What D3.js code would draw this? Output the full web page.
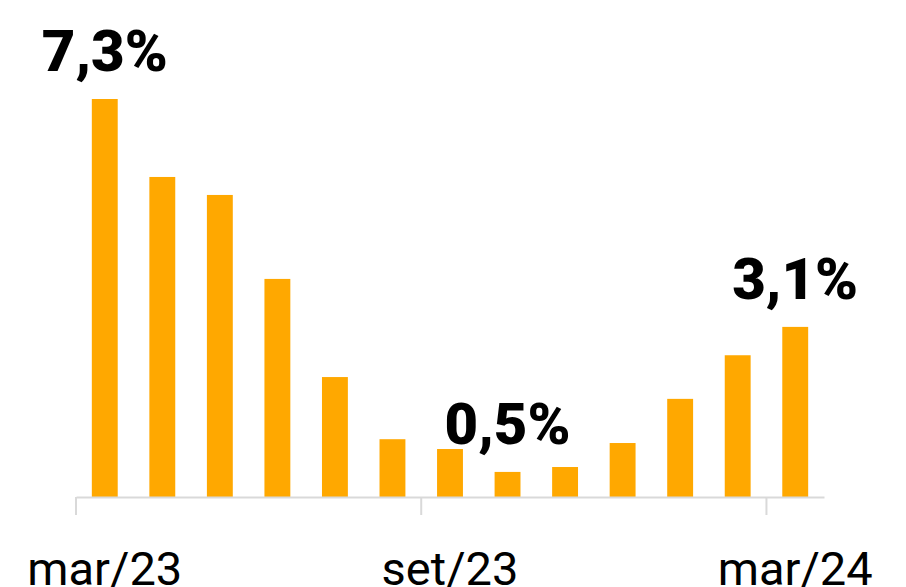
<!DOCTYPE html>
<html>
<head>
<meta charset="utf-8">
<script src="https://cdn.jsdelivr.net/npm/d3@7"></script>
<style>
  html, body { margin: 0; padding: 0; background: #fff; }
  svg { display: block; }
</style>
</head>
<body>
<div id="chart"></div>
<script>
    const months = ['mar/23', 'abr/23', 'mai/23', 'jun/23', 'jul/23', 'ago/23', 'set/23',
        'out/23', 'nov/23', 'dez/23', 'jan/24', 'fev/24', 'mar/24'];
    const values = [7.3, 5.87, 5.54, 4.0, 2.2, 1.06, 0.88, 0.46, 0.55, 0.99, 1.8, 2.6, 3.12];
    const tickLabels = ['mar/23', 'set/23', 'mar/24'];
    const labeledMonths = ['mar/23', 'out/23', 'mar/24'];

    const width = 906;
    const height = 587;
    const margins = { left: 76, right: 82, top: 99, bottom: 90 };

    const svg = d3.select('#chart')
        .append('svg')
        .attr('width', width)
        .attr('height', height);

    //scales
    const x = d3.scaleBand()
        .domain(months)
        .range([margins.left, width - margins.right])
        .paddingInner(0.55)
        .paddingOuter(0.275);
    const y = d3.scaleLinear()
        .domain([0, d3.max(values)])
        .range([height - margins.bottom, margins.top]);

    //bars
    svg.append('g')
        .selectAll('rect')
        .data(months)
        .join('rect')
        .attr('x', d => x(d))
        .attr('width', x.bandwidth())
        .attr('y', (d, i) => y(values[i]))
        .attr('height', (d, i) => y(0) - y(values[i]))
        .attr('fill', '#ffa800');

    //axis (ticks sit between categories, like the original)
    const step = x.step();
    const axis = svg.append('g')
        .attr('transform', `translate(0,${y(0)})`)
        .call(d3.axisBottom(x).tickValues(tickLabels).tickSize(18).tickSizeOuter(0).tickPadding(37));
    axis.select('.domain')
        .attr('stroke', '#d9d9d9')
        .attr('stroke-width', 2);
    axis.selectAll('.tick line')
        .attr('x1', -step / 2)
        .attr('x2', -step / 2)
        .attr('stroke', '#d9d9d9')
        .attr('stroke-width', 2);
    axis.selectAll('.tick text')
        .attr('fill', '#000')
        .style('font-family', 'Roboto, sans-serif')
        .style('font-size', '47px');

    //value labels
    const fmt = v => d3.format('.1f')(v).replace('.', ',') + '%';
    svg.append('g')
        .selectAll('text')
        .data(labeledMonths)
        .join('text')
        .attr('x', d => x(d) + x.bandwidth() / 2)
        .attr('y', d => y(values[months.indexOf(d)]) - 28)
        .attr('text-anchor', 'middle')
        .style('font-family', 'Roboto, sans-serif')
        .style('font-weight', 900)
        .style('font-size', '58px')
        .text(d => fmt(values[months.indexOf(d)]));
</script>
</body>
</html>
